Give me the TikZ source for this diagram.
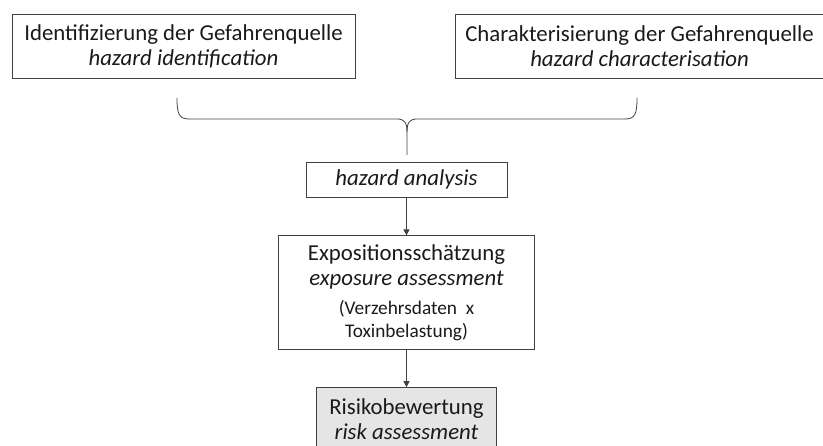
\documentclass[tikz,border=0pt]{standalone}
\usepackage{fontspec}
\setmainfont{Carlito}
\usepackage{xcolor}
\usetikzlibrary{arrows.meta, positioning}

\definecolor{linegray}{HTML}{404040}
\definecolor{textgray}{HTML}{1A1A1A}

\begin{document}
\begin{tikzpicture}[x=1pt,y=1pt,>={Triangle[length=6pt,width=6pt]},
    font=\fontsize{22.8}{25}\selectfont,text=textgray]
  \useasboundingbox (0,0) rectangle (823,-446);
  \node[draw=linegray,line width=0.8pt,minimum width=343pt,minimum height=64pt,
        align=center] (ident) at (183.5,-46)
    {Identifizierung der Gefahrenquelle\\\textit{hazard identification}};
  \node[draw=linegray,line width=0.8pt,minimum width=369pt,minimum height=64pt,
        align=center] (charact) at (639.5,-46)
    {Charakterisierung der Gefahrenquelle\\\textit{hazard characterisation}};
  \node[draw=linegray,line width=0.8pt,minimum width=201pt,minimum height=35pt,
        align=center] (analysis) at (406.5,-179.5)
    {\textit{hazard analysis}};
  \node[draw=linegray,line width=0.8pt,minimum width=256pt,minimum height=114pt,
        align=center,below=38pt of analysis] (expo)
    {Expositionsschätzung\\\textit{exposure assessment}\\[4pt]
     {\fontsize{19.3}{22.7}\selectfont (Verzehrsdaten\ \ x}\\[-2.5pt]
     {\fontsize{19.3}{22.7}\selectfont Toxinbelastung)}};
  \node[draw=linegray,fill=black!10,line width=0.8pt,minimum width=180pt,
        minimum height=64pt,align=center,below=37pt of expo] (risk)
    {Risikobewertung\\\textit{risk assessment}};
  % brace below the two upper boxes
  \coordinate (braceL) at (177,-98);
  \coordinate (braceR) at (637,-98);
  \coordinate (braceTip) at (407,-155);
  \draw[linegray,line width=0.8pt]
    (braceL) .. controls (177,-114) and (179,-119) .. (189,-119)
    -- (397,-119) .. controls (404,-119) and (407,-122) .. (407,-132)
    -- (braceTip);
  \draw[linegray,line width=0.8pt]
    (braceR) .. controls (637,-114) and (635,-119) .. (625,-119)
    -- (417,-119) .. controls (410,-119) and (407,-122) .. (407,-132);
  \draw[->,linegray,line width=0.8pt] (analysis) -- (expo);
  \draw[->,linegray,line width=0.8pt] (expo) -- (risk);
\end{tikzpicture}
\end{document}
